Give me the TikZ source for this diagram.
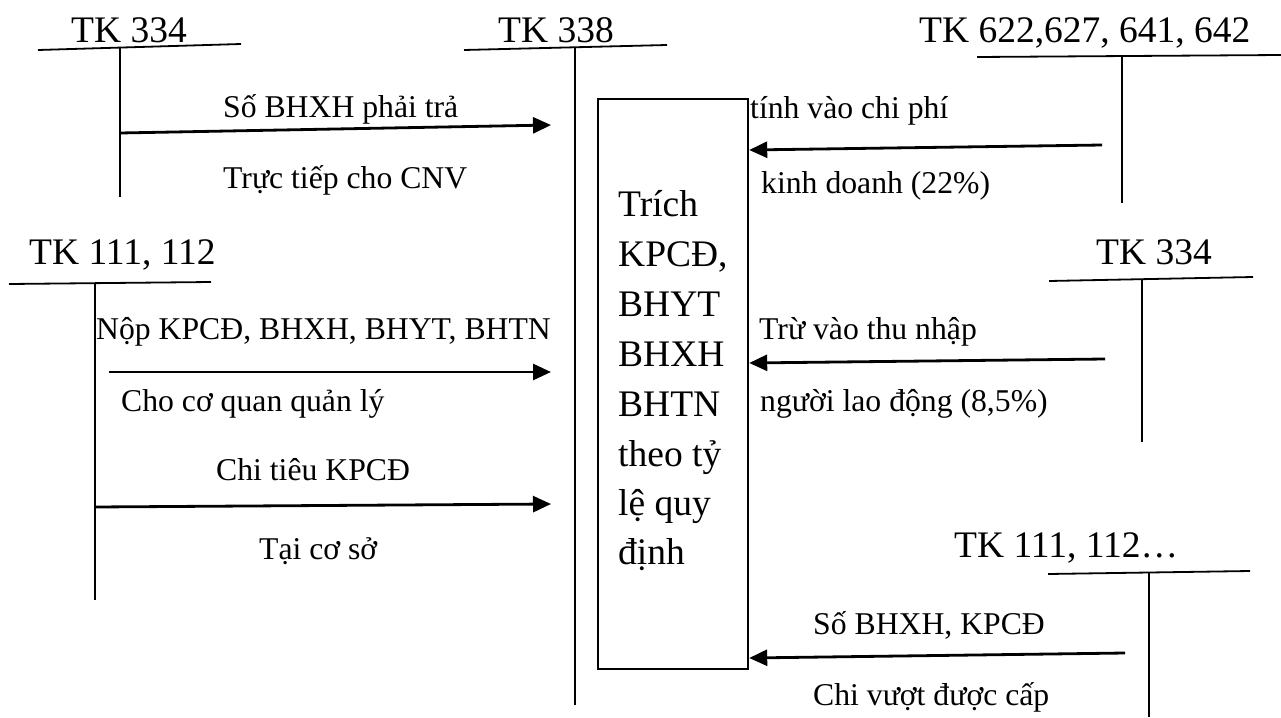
\documentclass[tikz,border=0pt]{standalone}
\usepackage{fontspec}
\setmainfont{Liberation Serif}
\usetikzlibrary{arrows.meta}
\begin{document}
\begin{tikzpicture}[x=1pt,y=-1pt,
  acct/.style={line width=1.8pt},
  flow/.style={line width=2.8pt,-{Triangle[length=18pt,width=16pt]}},
  big/.style={font=\fontsize{37.5}{44}\selectfont, inner sep=0pt, anchor=base west},
  lbl/.style={font=\fontsize{31.7}{38}\selectfont, inner sep=0pt, anchor=base west},
  frame/.style={draw, line width=2.2pt, inner sep=0pt, anchor=north west}
]
\useasboundingbox (0,0) rectangle (1281,717);

% ---- TK 334 (top left)
\node[big] (n334a) at (71,42) {TK 334};
\coordinate (a334L) at (38,50);  \coordinate (a334R) at (241,44);
\coordinate (a334T) at (120,47); \coordinate (a334B) at (120,197);
\draw[acct] (a334L) -- (a334R);
\draw[acct] (a334T) -- (a334B);

% ---- TK 338 (centre)
\node[big] (n338) at (498,42) {TK 338};
\coordinate (a338L) at (464,50);  \coordinate (a338R) at (667,45);
\coordinate (a338T) at (575,47);  \coordinate (a338B) at (575,705);
\draw[acct] (a338L) -- (a338R);
\draw[acct] (a338T) -- (a338B);

% ---- TK 622,627,641,642 (top right)
\node[big] (n622) at (919,42) {TK 622,627, 641, 642};
\coordinate (a622L) at (977,57);  \coordinate (a622R) at (1281,55);
\coordinate (a622T) at (1122,56); \coordinate (a622B) at (1122,203);
\draw[acct] (a622L) -- (a622R);
\draw[acct] (a622T) -- (a622B);

% ---- TK 111, 112 (left)
\node[big] (n111a) at (29,264) {TK 111, 112};
\coordinate (a111L) at (9,284);   \coordinate (a111R) at (211,282);
\coordinate (a111T) at (95,283);  \coordinate (a111B) at (95,600);
\draw[acct] (a111L) -- (a111R);
\draw[acct] (a111T) -- (a111B);

% ---- TK 334 (right)
\node[big] (n334b) at (1096,264) {TK 334};
\coordinate (b334L) at (1049,281); \coordinate (b334R) at (1253,277);
\coordinate (b334T) at (1142,279); \coordinate (b334B) at (1142,442);
\draw[acct] (b334L) -- (b334R);
\draw[acct] (b334T) -- (b334B);

% ---- TK 111, 112... (bottom right)
\node[big] (n111b) at (954,557) {TK 111, 112…};
\coordinate (b111L) at (1048,574); \coordinate (b111R) at (1250,571);
\coordinate (b111T) at (1149,572); \coordinate (b111B) at (1149,717);
\draw[acct] (b111L) -- (b111R);
\draw[acct] (b111T) -- (b111B);

% ---- central box
\node[frame, minimum width=150pt, minimum height=570pt] (box) at (597,98) {};
\node[big] (k1) at (618,216) {Trích};
\node[big] (k2) at (618,266) {KPCĐ,};
\node[big] (k3) at (618,316) {BHYT};
\node[big] (k4) at (618,366) {BHXH};
\node[big] (k5) at (618,416) {BHTN};
\node[big] (k6) at (618,466) {theo tỷ};
\node[big] (k7) at (618,515) {lệ quy};
\node[big] (k8) at (618,564) {định};

% ---- flows on the left
\coordinate (f1s) at (120,133); \coordinate (f1e) at (551,125);
\draw[flow] (f1s) -- (f1e);
\node[lbl] (l1a) at (223,117) {Số BHXH phải trả};
\node[lbl] (l1b) at (223,188) {Trực tiếp cho CNV};

\coordinate (f2s) at (109,372); \coordinate (f2e) at (551,372);
\draw[flow] (f2s) -- (f2e);
\node[lbl] (l2a) at (96,339) {Nộp KPCĐ, BHXH, BHYT, BHTN};
\node[lbl] (l2b) at (121,411) {Cho cơ quan quản lý};

\coordinate (f3s) at (95,507); \coordinate (f3e) at (551,504);
\draw[flow] (f3s) -- (f3e);
\node[lbl] (l3a) at (216,480) {Chi tiêu KPCĐ};
\node[lbl] (l3b) at (259,559) {Tại cơ sở};

% ---- flows on the right
\coordinate (f4s) at (1102,145); \coordinate (f4e) at (box.east |- 0,150);
\draw[flow] (f4s) -- (f4e);
\node[lbl] (l4a) at (750,118) {tính vào chi phí};
\node[lbl] (l4b) at (761,193) {kinh doanh (22\%)};

\coordinate (f5s) at (1105,359); \coordinate (f5e) at (box.east |- 0,363);
\draw[flow] (f5s) -- (f5e);
\node[lbl] (l5a) at (759,339) {Trừ vào thu nhập};
\node[lbl] (l5b) at (760,411) {người lao động (8,5\%)};

\coordinate (f6s) at (1125,653); \coordinate (f6e) at (box.east |- 0,658);
\draw[flow] (f6s) -- (f6e);
\node[lbl] (l6a) at (813,634) {Số BHXH, KPCĐ};
\node[lbl] (l6b) at (813,705) {Chi vượt được cấp};
\end{tikzpicture}
\end{document}
